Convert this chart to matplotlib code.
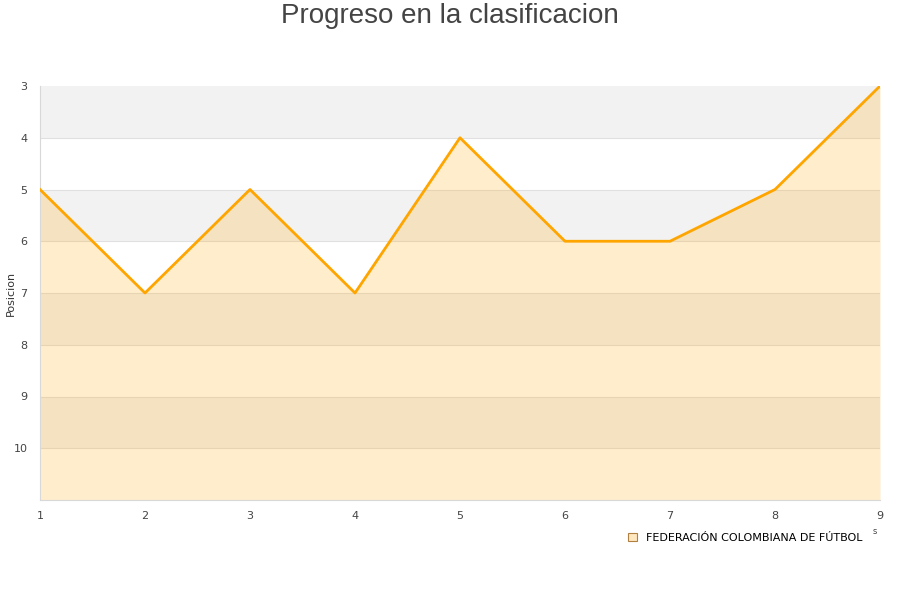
import matplotlib.pyplot as plt
from matplotlib.patches import Patch

jornadas = [1, 2, 3, 4, 5, 6, 7, 8, 9]
posicion = [5, 7, 5, 7, 4, 6, 6, 5, 3]
equipo = "FEDERACIÓN COLOMBIANA DE FÚTBOL"
y_ticks = [3, 4, 5, 6, 7, 8, 9, 10]

fig = plt.figure(figsize=(9, 6), dpi=100)
ax = fig.add_axes([40 / 900, 100 / 600, 840 / 900, 414 / 600])

# alternating bands
for lo in range(3, 11, 2):
    ax.axhspan(lo, lo + 1, color="#f2f2f2", zorder=0, lw=0)
for v in range(4, 11):
    ax.axhline(v, color="#e0e0e0", lw=0.8, zorder=1)

ax.fill_between(jornadas, posicion, 11, color="#ffa500", alpha=0.2, lw=0, zorder=2)
ax.plot(jornadas, posicion, color="#ffa500", lw=2, zorder=3)

ax.set_xlim(1, 9)
ax.set_ylim(11, 3)
ax.set_xticks(jornadas)
ax.set_yticks(y_ticks)
ax.tick_params(length=0, labelsize=8, colors="#444444", pad=8)
ax.tick_params(axis="y", pad=9)
for s in ["top", "right"]:
    ax.spines[s].set_visible(False)
for s in ["left", "bottom"]:
    ax.spines[s].set_color("#d8d8d8")

ax.set_ylabel("Posicion", fontsize=8, color="#333333")
ax.yaxis.set_label_coords(-24 / 840, 0.5)
fig.text(0.5, 1 - 16 / 600, "Progreso en la clasificacion", fontsize=20, color="#444444",
         ha="center", va="center", family="Liberation Sans")

fig.text(875 / 900, 1 - 532 / 600, "s", fontsize=6, color="#444444", ha="center", va="center")

handle = Patch(facecolor="#ffe7c0", edgecolor="#b08040", lw=0.8)
fig.legend([handle], [equipo], loc="center right", bbox_to_anchor=(872 / 900, 1 - 538 / 600),
           frameon=False, fontsize=8, handlelength=0.8, handleheight=0.8, handletextpad=0.8)

fig.savefig("out.png")
